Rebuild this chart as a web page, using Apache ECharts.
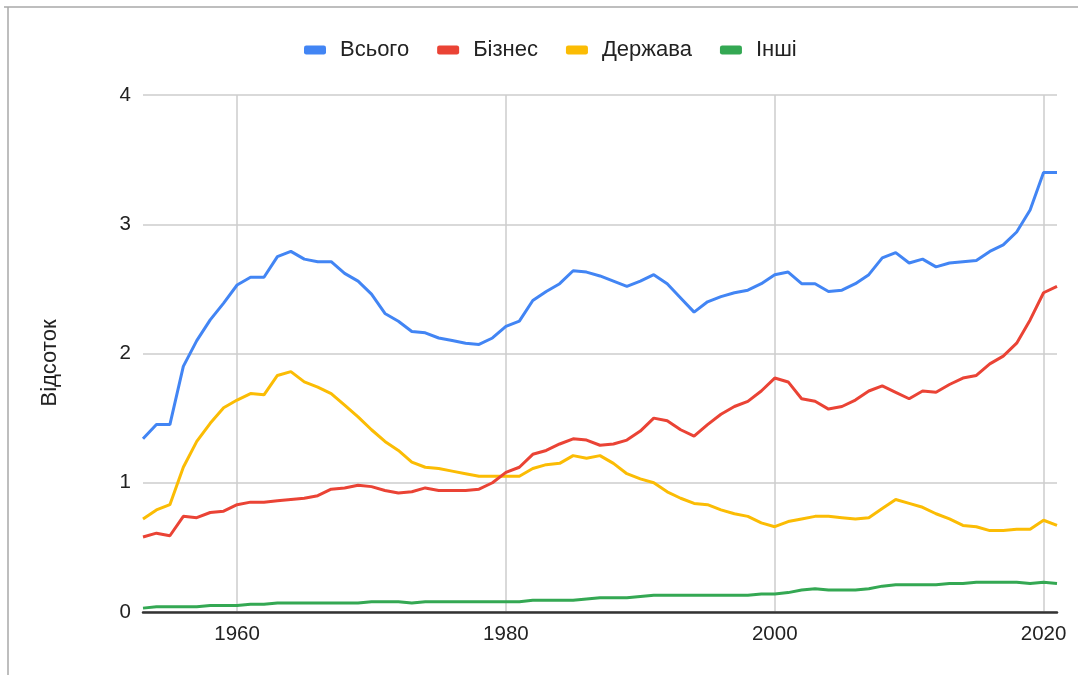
<!DOCTYPE html>
<html>
<head>
<meta charset="utf-8">
<script src="https://cdn.jsdelivr.net/npm/echarts@6/dist/echarts.min.js"></script>
<style>
  html, body { margin: 0; padding: 0; background: #fff; }
  #chart { width: 1078px; height: 675px; }
</style>
</head>
<body>
<div id="chart"></div>
<script>
// R&D spending as a share of GDP, by funding source, 1953–2021
const years = [];
for (let y = 1953; y <= 2021; y++) years.push(String(y));

const total = [
  1.34, 1.45, 1.45, 1.90, 2.10, 2.26, 2.39, 2.53, 2.59, 2.59,
  2.75, 2.79, 2.73, 2.71, 2.71, 2.62, 2.56, 2.46, 2.31, 2.25,
  2.17, 2.16, 2.12, 2.10, 2.08, 2.07, 2.12, 2.21, 2.25, 2.41,
  2.48, 2.54, 2.64, 2.63, 2.60, 2.56, 2.52, 2.56, 2.61, 2.54,
  2.43, 2.32, 2.40, 2.44, 2.47, 2.49, 2.54, 2.61, 2.63, 2.54,
  2.54, 2.48, 2.49, 2.54, 2.61, 2.74, 2.78, 2.70, 2.73, 2.67,
  2.70, 2.71, 2.72, 2.79, 2.84, 2.94, 3.11, 3.40, 3.40
];

const business = [
  0.58, 0.61, 0.59, 0.74, 0.73, 0.77, 0.78, 0.83, 0.85, 0.85,
  0.86, 0.87, 0.88, 0.90, 0.95, 0.96, 0.98, 0.97, 0.94, 0.92,
  0.93, 0.96, 0.94, 0.94, 0.94, 0.95, 1.00, 1.08, 1.12, 1.22,
  1.25, 1.30, 1.34, 1.33, 1.29, 1.30, 1.33, 1.40, 1.50, 1.48,
  1.41, 1.36, 1.45, 1.53, 1.59, 1.63, 1.71, 1.81, 1.78, 1.65,
  1.63, 1.57, 1.59, 1.64, 1.71, 1.75, 1.70, 1.65, 1.71, 1.70,
  1.76, 1.81, 1.83, 1.92, 1.98, 2.08, 2.26, 2.47, 2.52
];

const government = [
  0.72, 0.79, 0.83, 1.12, 1.32, 1.46, 1.58, 1.64, 1.69, 1.68,
  1.83, 1.86, 1.78, 1.74, 1.69, 1.60, 1.51, 1.41, 1.32, 1.25,
  1.16, 1.12, 1.11, 1.09, 1.07, 1.05, 1.05, 1.05, 1.05, 1.11,
  1.14, 1.15, 1.21, 1.19, 1.21, 1.15, 1.07, 1.03, 1.00, 0.93,
  0.88, 0.84, 0.83, 0.79, 0.76, 0.74, 0.69, 0.66, 0.70, 0.72,
  0.74, 0.74, 0.73, 0.72, 0.73, 0.80, 0.87, 0.84, 0.81, 0.76,
  0.72, 0.67, 0.66, 0.63, 0.63, 0.64, 0.64, 0.71, 0.67
];

const other = [
  0.03, 0.04, 0.04, 0.04, 0.04, 0.05, 0.05, 0.05, 0.06, 0.06,
  0.07, 0.07, 0.07, 0.07, 0.07, 0.07, 0.07, 0.08, 0.08, 0.08,
  0.07, 0.08, 0.08, 0.08, 0.08, 0.08, 0.08, 0.08, 0.08, 0.09,
  0.09, 0.09, 0.09, 0.10, 0.11, 0.11, 0.11, 0.12, 0.13, 0.13,
  0.13, 0.13, 0.13, 0.13, 0.13, 0.13, 0.14, 0.14, 0.15, 0.17,
  0.18, 0.17, 0.17, 0.17, 0.18, 0.20, 0.21, 0.21, 0.21, 0.21,
  0.22, 0.22, 0.23, 0.23, 0.23, 0.23, 0.22, 0.23, 0.22
];

const seriesNames = ['Всього', 'Бізнес', 'Держава', 'Інші'];
const seriesColors = ['#4285F4', '#EA4335', '#FBBC04', '#34A853'];
const seriesData = [total, business, government, other];
const yAxisTitle = 'Відсоток';

const FONT = '"Liberation Sans", Arial, Helvetica, sans-serif';
const everyTwenty = (idx, val) => Number(val) % 20 === 0;

const chart = echarts.init(document.getElementById('chart'), null, { renderer: 'canvas' });

chart.setOption({
  animation: false,
  backgroundColor: '#ffffff',
  textStyle: { fontFamily: FONT },
  graphic: [
    // frame lines along the top and left edge
    { type: 'line', silent: true, shape: { x1: 4, y1: 7, x2: 1078, y2: 7 },
      style: { stroke: '#a8a8a8', lineWidth: 1.5 } },
    { type: 'line', silent: true, shape: { x1: 8, y1: 7, x2: 8, y2: 675 },
      style: { stroke: '#a8a8a8', lineWidth: 1.5 } },
    // vertical axis title
    { type: 'text', silent: true, x: 50, y: 363, rotation: Math.PI / 2,
      style: { text: yAxisTitle, fontFamily: FONT, fontSize: 22, fill: '#222',
               align: 'center', verticalAlign: 'middle' } }
  ],
  legend: {
    top: 39,
    left: 304,
    padding: 0,
    icon: 'roundRect',
    itemWidth: 22,
    itemHeight: 9,
    itemGap: 28,
    textStyle: { fontFamily: FONT, fontSize: 22, color: '#222', padding: [0, 0, 0, 9] },
    data: seriesNames
  },
  grid: { left: 143, right: 21, top: 95, bottom: 63, containLabel: false },
  xAxis: {
    type: 'category',
    data: years,
    boundaryGap: false,
    axisLine: { show: true, lineStyle: { color: '#333', width: 2.5 } },
    axisTick: { show: false, interval: everyTwenty },
    axisLabel: {
      interval: everyTwenty,
      fontFamily: FONT, fontSize: 20.5, color: '#222', margin: 12
    },
    splitLine: { show: true, interval: everyTwenty, lineStyle: { color: '#cccccc', width: 1.5 } }
  },
  yAxis: {
    type: 'value',
    min: 0,
    max: 4,
    interval: 1,
    axisLine: { show: false },
    axisTick: { show: false },
    axisLabel: { fontFamily: FONT, fontSize: 20.5, color: '#222', margin: 12 },
    splitLine: { lineStyle: { color: '#cccccc', width: 1.5 } }
  },
  series: seriesNames.map((name, i) => ({
    name: name,
    type: 'line',
    data: seriesData[i],
    symbol: 'none',
    smooth: false,
    color: seriesColors[i],
    lineStyle: { width: 3, color: seriesColors[i] },
    z: 10 - i
  }))
});
</script>
</body>
</html>
